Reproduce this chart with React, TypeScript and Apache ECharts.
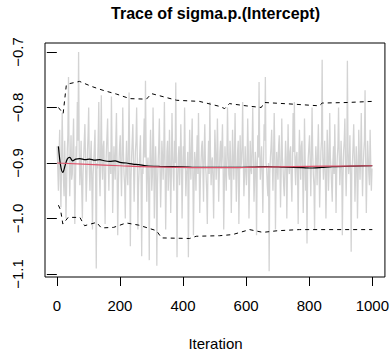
import React, { useEffect, useRef } from "react";
import * as echarts from "echarts";

const TITLE = "Trace of sigma.p.(Intercept)";
const X_NAME = "Iteration";
const X_TICKS = [0, 200, 400, 600, 800, 1000];
const Y_TICKS = [-1.1, -1.0, -0.9, -0.8, -0.7];

// sampled trace: one value every 2 iterations starting at iteration 1
const TRACE_STEP = 2;
const traceValues = [
  -0.87, -0.91, -0.95, -0.89, -0.84, -0.93, -0.98, -0.90, -0.81, -0.88, -0.93, -0.96, -0.86, -0.92, -1.0, -0.94, -0.88, -0.85, -0.745, -0.90,
  -0.96, -0.90, -0.85, -0.93, -0.92, -0.87, -0.82, -0.91, -1.01, -0.94, -0.87, -0.89, -0.79, -0.86, -0.70, -0.88, -0.94, -0.91, -0.86, -0.95,
  -1.0, -0.92, -0.89, -0.86, -0.83, -0.90, -0.97, -0.93, -0.88, -0.85, -0.80, -0.91, -0.95, -0.89, -0.86, -0.94, -1.02, -0.92, -0.90, -0.87,
  -0.84, -0.93, -1.09, -0.90, -0.91, -0.86, -0.79, -0.92, -0.96, -0.88, -0.778, -0.90, -0.93, -0.87, -0.86, -0.94, -1.01, -0.91, -0.88, -0.85,
  -0.82, -0.90, -0.95, -0.88, -0.89, -0.92, -0.78, -0.87, -0.99, -0.93, -0.87, -0.90, -0.93, -0.86, -0.81, -0.91, -1.03, -0.94, -0.90, -0.87,
  -0.85, -0.91, -0.96, -0.89, -0.80, -0.88, -0.92, -0.94, -1.0, -0.90, -0.86, -0.92, -0.94, -0.87, -0.773, -0.90, -1.05, -0.93, -0.89, -0.86,
  -0.83, -0.90, -0.97, -0.92, -0.88, -0.86, -0.80, -0.89, -1.02, -0.94, -0.91, -0.88, -0.85, -0.93, -1.068, -0.91, -0.92, -0.87, -0.82, -0.89,
  -0.752, -0.88, -0.97, -0.91, -0.89, -0.94, -1.075, -0.90, -0.84, -0.89, -0.95, -0.92, -0.80, -0.87, -1.0, -0.93, -0.87, -0.91, -1.085, -0.94,
  -0.90, -0.87, -0.82, -0.91, -0.98, -0.93, -0.86, -0.89, -0.93, -0.88, -0.79, -0.90, -1.02, -0.94, -0.88, -0.86, -0.95, -0.92, -0.84, -0.90,
  -0.99, -0.92, -0.81, -0.88, -0.92, -0.95, -0.86, -0.90, -0.755, -0.91, -1.07, -0.93, -0.89, -0.87, -0.94, -0.90, -0.83, -0.89, -1.0, -0.92,
  -0.87, -0.91, -0.80, -0.89, -0.96, -0.92, -0.91, -0.88, -1.07, -0.93, -0.84, -0.90, -0.93, -0.87, -0.82, -0.91, -1.03, -0.94, -0.88, -0.90,
  -0.95, -0.89, -0.85, -0.92, -0.81, -0.90, -0.99, -0.93, -0.90, -0.87, -0.86, -0.91, -0.97, -0.88, -0.83, -0.90, -0.92, -0.95, -1.01, -0.91,
  -0.86, -0.92, -0.79, -0.88, -0.94, -0.90, -0.89, -0.93, -1.0, -0.91, -0.84, -0.88, -0.93, -0.90, -0.82, -0.89, -0.97, -0.92, -0.88, -0.86,
  -0.91, -0.88, -0.83, -0.90, -1.02, -0.94, -0.87, -0.91, -0.95, -0.89, -0.80, -0.88, -0.92, -0.93, -0.86, -0.90, -0.99, -0.92, -0.84, -0.89,
  -0.93, -0.89, -0.81, -0.90, -0.97, -0.92, -0.88, -0.86, -1.01, -0.93, -0.85, -0.91, -0.90, -0.87, -0.79, -0.89, -0.96, -0.92, -0.87, -0.91,
  -0.94, -0.90, -0.82, -0.88, -1.0, -0.93, -0.86, -0.91, -0.92, -0.87, -0.80, -0.89, -0.97, -0.93, -0.88, -0.90, -1.03, -0.92, -0.85, -0.89,
  -0.754, -0.88, -0.93, -0.90, -0.87, -0.92, -0.99, -0.91, -0.83, -0.86, -0.745, -0.90, -0.91, -0.94, -0.96, -0.90, -1.095, -0.92, -0.89, -0.87,
  -0.84, -0.90, -0.95, -0.89, -0.81, -0.88, -1.02, -0.93, -0.88, -0.91, -0.93, -0.87, -0.85, -0.90, -0.98, -0.92, -0.82, -0.89, -0.91, -0.94,
  -0.96, -0.91, -0.86, -0.89, -1.0, -0.92, -0.83, -0.90, -0.92, -0.88, -0.87, -0.93, -0.97, -0.90, -0.81, -0.88, -0.79, -0.91, -0.94, -0.89,
  -0.88, -0.92, -1.01, -0.90, -0.84, -0.89, -0.93, -0.87, -0.86, -0.91, -0.99, -0.93, -0.82, -0.89, -0.95, -0.91, -1.045, -0.92, -0.89, -0.87,
  -0.85, -0.90, -0.96, -0.89, -0.80, -0.88, -0.92, -0.94, -1.02, -0.91, -0.87, -0.90, -0.94, -0.88, -0.83, -0.90, -0.98, -0.93, -0.88, -0.86,
  -0.714, -0.89, -0.93, -0.90, -0.86, -0.92, -1.0, -0.93, -0.84, -0.88, -0.95, -0.91, -0.81, -0.89, -0.91, -0.94, -0.97, -0.90, -0.87, -0.92,
  -0.83, -0.90, -0.99, -0.92, -0.89, -0.87, -0.80, -0.88, -0.94, -0.91, -0.86, -0.90, -1.03, -0.93, -0.88, -0.86, -0.82, -0.90, -0.96, -0.91,
  -0.716, -0.88, -0.92, -0.90, -0.85, -0.93, -1.06, -0.91, -0.90, -0.87, -0.83, -0.89, -0.97, -0.92, -0.87, -0.90, -1.0, -0.93, -0.84, -0.89,
  -0.93, -0.89, -0.81, -0.90, -0.96, -0.91, -0.88, -0.86, -0.769, -0.90, -0.99, -0.92, -0.86, -0.89, -0.92, -0.94, -0.84, -0.90, -0.95, -0.91,
];

// running mean (black)
const meanIter = [5, 12, 19, 26, 33, 41, 50, 60, 73, 90, 104, 120, 136, 150, 168, 185, 200, 220, 241, 260, 284, 326, 400, 452, 557, 620, 664, 720, 780, 810, 840, 874, 940, 1000];
const meanValues = [-0.870, -0.905, -0.917, -0.905, -0.893, -0.890, -0.896, -0.893, -0.892, -0.894, -0.893, -0.895, -0.894, -0.896, -0.897, -0.896, -0.899, -0.900, -0.902, -0.903, -0.905, -0.906, -0.907, -0.908, -0.908, -0.9075, -0.9065, -0.9075, -0.9085, -0.909, -0.908, -0.9065, -0.9055, -0.905];

// smooth (red)
const smoothIter = [1, 100, 200, 300, 400, 500, 600, 700, 800, 900, 1000];
const smoothValues = [-0.900, -0.9025, -0.905, -0.907, -0.908, -0.9085, -0.908, -0.907, -0.906, -0.9055, -0.905];

// running upper quantile (dashed)
const upperIter = [5, 12, 20, 30, 40, 72, 110, 146, 190, 231, 284, 300, 340, 380, 452, 516, 532, 547, 600, 648, 658, 750, 832, 841, 920, 1000];
const upperValues = [-0.800, -0.805, -0.811, -0.760, -0.757, -0.753, -0.762, -0.769, -0.776, -0.784, -0.785, -0.775, -0.781, -0.787, -0.789, -0.798, -0.802, -0.793, -0.797, -0.800, -0.791, -0.794, -0.797, -0.792, -0.791, -0.789];

// running lower quantile (dashed)
const lowerIter = [5, 12, 19, 36, 73, 88, 126, 141, 180, 220, 260, 316, 332, 421, 442, 516, 557, 611, 653, 700, 769, 850, 1000];
const lowerValues = [-0.976, -0.985, -1.010, -0.998, -0.998, -1.013, -1.007, -1.017, -1.016, -1.008, -1.012, -1.022, -1.035, -1.036, -1.032, -1.031, -1.029, -1.020, -1.025, -1.022, -1.020, -1.020, -1.020];

const FONT = "'Liberation Sans', Arial, Helvetica, sans-serif";

const zip = (xs: number[], ys: number[]) => xs.map((x, i) => [x, ys[i]]);
const fmtY = (v: number) => (v < 0 ? "\u2212" : "") + Math.abs(v).toFixed(1);

export default function App() {
  const ref = useRef<HTMLDivElement>(null);
  useEffect(() => {
    if (!ref.current) return;
    const chart = echarts.init(ref.current, null, { renderer: "svg" });
    const traceData = traceValues.map((v, i) => [1 + i * TRACE_STEP, v]);
    chart.setOption({
      animation: false,
      backgroundColor: "#ffffff",
      grid: {
        left: 45,
        top: 43,
        width: 341,
        height: 234,
        show: true,
        borderColor: "#000",
        borderWidth: 1,
        backgroundColor: "transparent",
      },
      xAxis: {
        type: "value",
        min: -37.5,
        max: 1040,
        axisLine: { show: false },
        splitLine: { show: false },
        axisTick: {
          show: true,
          inside: false,
          length: 9,
          lineStyle: { color: "#000", width: 1 },
          customValues: X_TICKS,
        },
        axisLabel: {
          customValues: X_TICKS,
          margin: 21,
          color: "#000",
          fontSize: 15,
          fontFamily: FONT,
          formatter: (v: number) => String(v),
        },
      },
      yAxis: {
        type: "value",
        min: -1.1054,
        max: -0.6838,
        axisLine: { show: false },
        splitLine: { show: false },
        axisTick: {
          show: true,
          inside: false,
          length: 10,
          lineStyle: { color: "#000", width: 1 },
          customValues: Y_TICKS,
        },
        axisLabel: {
          customValues: Y_TICKS,
          rotate: 90,
          margin: 20,
          color: "#000",
          fontSize: 15,
          fontFamily: FONT,
          formatter: (v: number) => fmtY(v),
        },
      },
      graphic: [
        {
          type: "text",
          x: 215.5,
          y: 5,
          style: {
            text: TITLE,
            textAlign: "center",
            textVerticalAlign: "top",
            font: `bold 16px ${FONT}`,
            fill: "#000",
          },
        },
        {
          type: "text",
          x: 215.5,
          y: 336,
          style: {
            text: X_NAME,
            textAlign: "center",
            textVerticalAlign: "top",
            font: `15px ${FONT}`,
            fill: "#000",
          },
        },
      ],
      series: [
        {
          type: "line",
          data: traceData,
          showSymbol: false,
          symbol: "none",
          lineStyle: { color: "#D3D3D3", width: 1.3 },
          clip: true,
          z: 1,
        },
        {
          type: "line",
          data: zip(upperIter, upperValues),
          symbol: "none",
          lineStyle: { color: "#000", width: 1, type: [4, 4] },
          z: 2,
        },
        {
          type: "line",
          data: zip(lowerIter, lowerValues),
          symbol: "none",
          lineStyle: { color: "#000", width: 1, type: [4, 4] },
          z: 2,
        },
        {
          type: "line",
          data: zip(meanIter, meanValues),
          symbol: "none",
          smooth: 0.3,
          lineStyle: { color: "#000", width: 1.2 },
          z: 3,
        },
        {
          type: "line",
          data: zip(smoothIter, smoothValues),
          symbol: "none",
          smooth: true,
          lineStyle: { color: "#DF536B", width: 1.2 },
          z: 4,
        },
      ],
    });
    return () => chart.dispose();
  }, []);
  return (
    <div
      ref={ref}
      style={{ position: "absolute", left: 0, top: 0, width: 392, height: 354 }}
    />
  );
}
